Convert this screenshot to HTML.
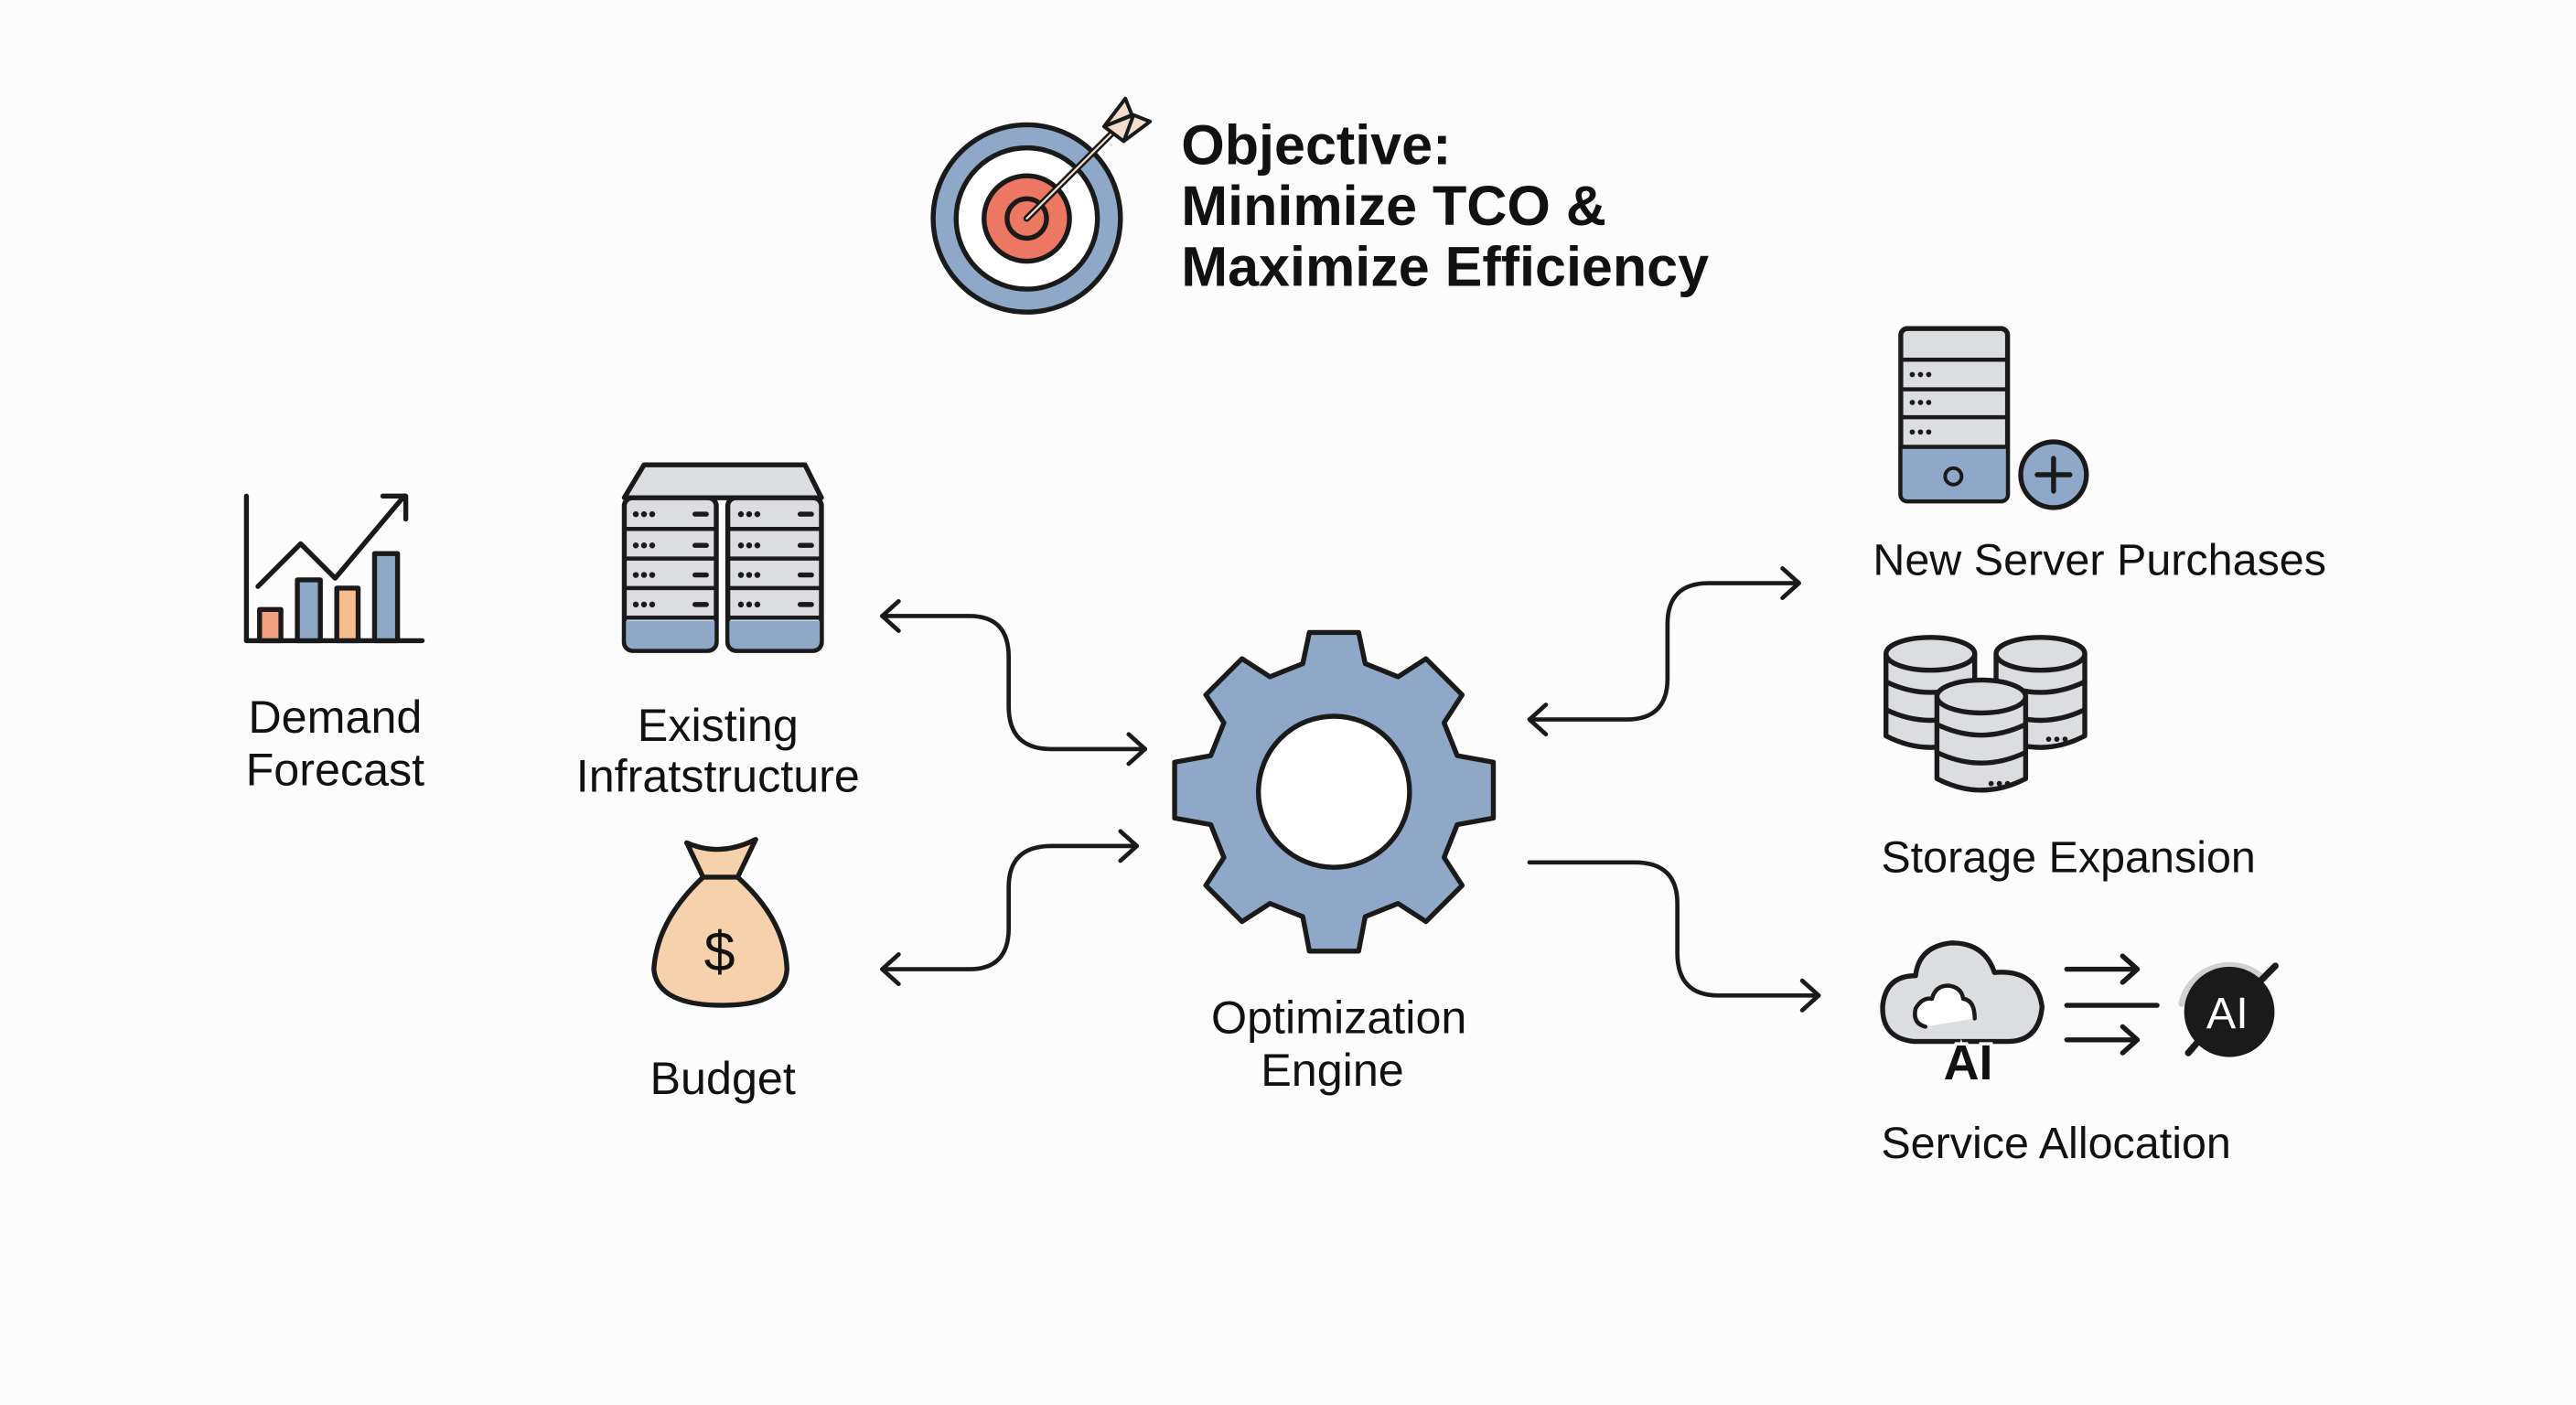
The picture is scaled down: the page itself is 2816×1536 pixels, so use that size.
<!DOCTYPE html>
<html><head><meta charset="utf-8"><style>
html,body{margin:0;padding:0;background:#fcfcfc;}
svg{display:block;}
text{font-family:"Liberation Sans",sans-serif;fill:#111;}
</style></head><body>
<svg width="2816" height="1536" viewBox="0 0 1568 855.3" preserveAspectRatio="none" xmlns="http://www.w3.org/2000/svg">
<rect width="1568" height="856" fill="#fcfcfc"/>
<g stroke="#1a1a1a" stroke-width="3" stroke-linejoin="round" stroke-linecap="round">
<circle cx="625" cy="133" r="57" fill="#8fa8c8"/>
<circle cx="625" cy="133" r="43" fill="#fff"/>
<circle cx="625" cy="133" r="26" fill="#ec7763"/>
<circle cx="625" cy="133" r="12" fill="#ec7763"/>
<line x1="625" y1="133" x2="684" y2="74" stroke-width="4"/>
<line x1="625" y1="133" x2="684" y2="74" stroke="#f3e2d4" stroke-width="1.2"/>
<path d="M672,77 L685,60 L689,70 Z M684,86 L700,74 L690,70 Z M672,77 L684,86 L690,70 Z" fill="#f3dccb" stroke-width="2.2"/>
<path d="M150,302 V390 H257" fill="none"/>
<rect x="158" y="371" width="13" height="19" fill="#f0a07e"/>
<rect x="181" y="353" width="14" height="37" fill="#8fa8c8"/>
<rect x="205" y="358" width="13" height="32" fill="#f6bd8e"/>
<rect x="228" y="337" width="14" height="53" fill="#8fa8c8"/>
<path d="M157,357 L183,331 L204,352 L246,302" fill="none"/>
<path d="M233,302 H247 V316" fill="none"/>
<path d="M392,283 H490 L500,303 H380 Z" fill="#dcdde0"/>
<rect x="380" y="303" width="56" height="93" rx="5" fill="#dcdde0"/>
<rect x="443" y="303" width="57" height="93" rx="5" fill="#dcdde0"/>
<path d="M381,378 H435 V390 Q435,395 430,395 H386 Q381,395 381,390 Z M444,378 H499 V390 Q499,395 494,395 H449 Q444,395 444,390 Z" fill="#8fa8c8" stroke="none"/>
<path d="M380,322 H436 M380,340 H436 M380,358 H436 M380,376 H436 M443,322 H500 M443,340 H500 M443,358 H500 M443,376 H500" stroke-width="2.5"/>
<path d="M423,313 H430 M423,332 H430 M423,350 H430 M423,368 H430 M487,313 H494 M487,332 H494 M487,350 H494 M487,368 H494" stroke-width="3"/>
</g>
<g fill="#1a1a1a">
<circle cx="387" cy="313" r="1.8"/><circle cx="392" cy="313" r="1.8"/><circle cx="397" cy="313" r="1.8"/>
<circle cx="387" cy="332" r="1.8"/><circle cx="392" cy="332" r="1.8"/><circle cx="397" cy="332" r="1.8"/>
<circle cx="387" cy="350" r="1.8"/><circle cx="392" cy="350" r="1.8"/><circle cx="397" cy="350" r="1.8"/>
<circle cx="387" cy="368" r="1.8"/><circle cx="392" cy="368" r="1.8"/><circle cx="397" cy="368" r="1.8"/>
<circle cx="451" cy="313" r="1.8"/><circle cx="456" cy="313" r="1.8"/><circle cx="461" cy="313" r="1.8"/>
<circle cx="451" cy="332" r="1.8"/><circle cx="456" cy="332" r="1.8"/><circle cx="461" cy="332" r="1.8"/>
<circle cx="451" cy="350" r="1.8"/><circle cx="456" cy="350" r="1.8"/><circle cx="461" cy="350" r="1.8"/>
<circle cx="451" cy="368" r="1.8"/><circle cx="456" cy="368" r="1.8"/><circle cx="461" cy="368" r="1.8"/>
</g>
<g stroke="#1a1a1a" stroke-width="3" stroke-linejoin="round" stroke-linecap="round">
<path d="M418,513 Q438,522 460,511 L449,534 Q478,560 479,590 Q478,612 440,612 Q400,612 398,590 Q400,560 428,534 Z" fill="#f6d2ac"/>
<path d="M428,534 H449" fill="none"/>
</g>
<g stroke="#1a1a1a" stroke-width="3" stroke-linejoin="round">
<path fill="#8fa8c8" d="
M797,385 H827 L831,404 L851,412 L868,401 L890,423 L879,440 L887,460 L909,464 V498 L887,502 L879,522 L890,539 L868,561 L851,550 L831,558 L827,579 H797 L793,558 L773,550 L756,561 L734,539 L745,522 L737,502 L715,498 V464 L737,460 L745,440 L734,423 L756,401 L773,412 L793,404 Z"/>
<circle cx="812" cy="482" r="46" fill="#fff"/>
</g>
<g fill="none" stroke="#1a1a1a" stroke-width="2.6" stroke-linecap="round" stroke-linejoin="round">
<path d="M697,456 H640 Q614,456 614,430 V400 Q614,375 590,375 H537"/>
<path d="M547,366 L537,375 L547,384 M687,447 L697,456 L687,465"/>
<path d="M537,590 H590 Q614,590 614,565 V540 Q614,515 640,515 H692"/>
<path d="M547,581 L537,590 L547,599 M682,506 L692,515 L682,524"/>
<path d="M931,438 H990 Q1015,438 1015,413 V380 Q1015,355 1040,355 H1095"/>
<path d="M941,429 L931,438 L941,447 M1085,346 L1095,355 L1085,364"/>
<path d="M931,525 H995 Q1021,525 1021,550 V580 Q1021,606 1046,606 H1107"/>
<path d="M1097,597 L1107,606 L1097,615"/>
</g>
<g stroke="#1a1a1a" stroke-width="3" stroke-linejoin="round" stroke-linecap="round">
<rect x="1157" y="200" width="65" height="105" rx="4" fill="#dcdde0"/>
<path d="M1158,272 H1221 V301 Q1221,304 1218,304 H1161 Q1158,304 1158,301 Z" fill="#8fa8c8" stroke="none"/>
<path d="M1157,219 H1222 M1157,237 H1222 M1157,254 H1222 M1157,272 H1222" stroke-width="2.5"/>
<circle cx="1189" cy="290" r="5" fill="none" stroke-width="2.2"/>
<circle cx="1250" cy="289" r="20" fill="#8fa8c8"/>
<path d="M1240,289 H1260 M1250,279 V299"/>
<g fill="#dcdde0">
<path d="M1148,398 V448 Q1175,462 1202,448 V398"/>
<ellipse cx="1175" cy="398" rx="27" ry="10"/>
<path d="M1148,415 Q1175,428 1202,415 M1148,432 Q1175,445 1202,432" fill="none"/>
<path d="M1215,398 V448 Q1242,462 1269,448 V398"/>
<ellipse cx="1242" cy="398" rx="27" ry="10"/>
<path d="M1215,415 Q1242,428 1269,415 M1215,432 Q1242,445 1269,432" fill="none"/>
<path d="M1179,424 V474 Q1206,488 1233,474 V424"/>
<ellipse cx="1206" cy="424" rx="27" ry="10"/>
<path d="M1179,441 Q1206,454 1233,441 M1179,458 Q1206,471 1233,458" fill="none"/>
</g>
<path d="M1165,634 Q1145,632 1146,612 Q1148,594 1166,594 Q1168,576 1188,574 Q1208,574 1214,592 Q1240,590 1243,613 Q1241,634 1222,634 Z" fill="#dcdde0"/>
<path d="M1172,625 Q1164,623 1166,614 Q1170,607 1176,608 Q1178,600 1186,600 Q1194,601 1195,608 Q1202,609 1202,620" fill="#fff" stroke-width="2.5"/>
<path d="M1258,590 H1300 M1292,582 L1301,590 L1292,598 M1258,612 H1313 M1258,633 H1300 M1292,625 L1301,633 L1292,641" fill="none" stroke-width="3"/>
<path d="M1328,611 A30,30 0 0 1 1378,596" fill="none" stroke="#d0d0d0" stroke-width="4"/>
<circle cx="1357" cy="616" r="26" fill="#1a1a1a"/>
<path d="M1332,641 L1338,634 M1376,597 L1385,588" stroke-width="4"/>
</g>
<text x="1183" y="657" font-size="30" font-weight="bold" stroke="#fcfcfc" stroke-width="4" paint-order="stroke">AI</text>
<text x="1343" y="626" font-size="27" style="fill:#fff">AI</text>
<g font-weight="bold" font-size="34">
<text x="719" y="100">Objective:</text>
<text x="719" y="137">Minimize TCO &amp;</text>
<text x="719" y="174">Maximize Efficiency</text>
</g>
<g font-size="28" text-anchor="middle">
<text x="204" y="446">Demand</text>
<text x="204" y="478">Forecast</text>
<text x="437" y="451">Existing</text>
<text x="437" y="482">Infratstructure</text>
<text x="440" y="666">Budget</text>
<text x="815" y="629">Optimization</text>
<text x="811" y="661">Engine</text>
<text x="438" y="591" font-size="34">$</text>
</g>
<g font-size="27">
<text x="1140" y="350">New Server Purchases</text>
<text x="1145" y="531">Storage Expansion</text>
<text x="1145" y="705">Service Allocation</text>
</g>
<g fill="#1a1a1a">
<circle cx="1164" cy="228" r="1.6"/><circle cx="1169" cy="228" r="1.6"/><circle cx="1174" cy="228" r="1.6"/>
<circle cx="1164" cy="245" r="1.6"/><circle cx="1169" cy="245" r="1.6"/><circle cx="1174" cy="245" r="1.6"/>
<circle cx="1164" cy="263" r="1.6"/><circle cx="1169" cy="263" r="1.6"/><circle cx="1174" cy="263" r="1.6"/>
<circle cx="1247" cy="450" r="1.6"/><circle cx="1252" cy="450" r="1.6"/><circle cx="1257" cy="450" r="1.6"/>
<circle cx="1212" cy="477" r="1.6"/><circle cx="1217" cy="477" r="1.6"/><circle cx="1222" cy="477" r="1.6"/>
</g>
</svg>
</body></html>
